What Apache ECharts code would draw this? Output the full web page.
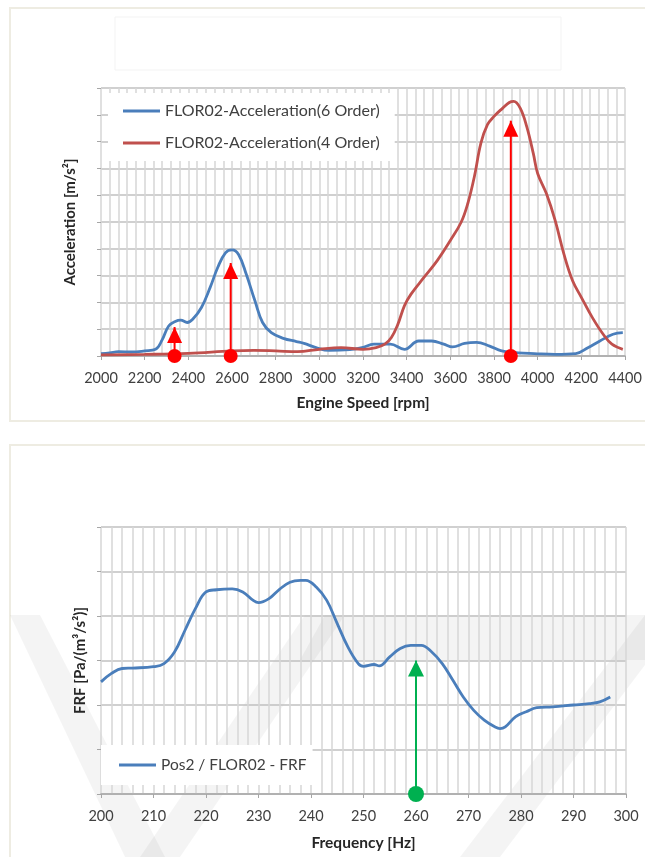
<!DOCTYPE html>
<html>
<head>
<meta charset="utf-8">
<title>Acceleration orders and FRF</title>
<script src="https://cdn.jsdelivr.net/npm/echarts@6/dist/echarts.min.js"></script>
<style>
  html, body { margin: 0; padding: 0; background: #ffffff; }
  #main { width: 645px; height: 857px; }
</style>
</head>
<body>
<div id="main"></div>
<script>
// ---- Engine run-up: order cuts of floor acceleration ----
const order6Rpm = [2000, 2040, 2080, 2140, 2200, 2250, 2280, 2310, 2340, 2365, 2395, 2420, 2460, 2500, 2535, 2570, 2600, 2630, 2665, 2705, 2740, 2780, 2835, 2895, 2930, 2985, 3045, 3140, 3195, 3250, 3325, 3390, 3455, 3515, 3570, 3610, 3665, 3720, 3780, 3835, 3910, 3985, 4080, 4175, 4230, 4285, 4345, 4390];
const order6Acc = [0.09, 0.12, 0.16, 0.15, 0.19, 0.25, 0.6, 1.12, 1.29, 1.34, 1.25, 1.37, 1.81, 2.56, 3.31, 3.85, 3.96, 3.79, 3.06, 2.06, 1.25, 0.87, 0.66, 0.54, 0.47, 0.31, 0.21, 0.24, 0.31, 0.44, 0.44, 0.25, 0.56, 0.56, 0.44, 0.34, 0.47, 0.51, 0.37, 0.19, 0.12, 0.09, 0.06, 0.09, 0.31, 0.56, 0.81, 0.87];

const order4Rpm = [2000, 2200, 2400, 2600, 2700, 2800, 2900, 3000, 3100, 3200, 3260, 3300, 3330, 3360, 3390, 3420, 3480, 3540, 3600, 3650, 3680, 3710, 3740, 3770, 3800, 3840, 3870, 3890, 3920, 3950, 3980, 4000, 4040, 4080, 4120, 4160, 4200, 4250, 4300, 4340, 4390];
const order4Acc = [0.04, 0.06, 0.1, 0.19, 0.21, 0.19, 0.16, 0.25, 0.31, 0.25, 0.31, 0.44, 0.69, 1.19, 1.88, 2.31, 2.94, 3.56, 4.31, 5.0, 5.69, 6.69, 7.94, 8.63, 8.94, 9.25, 9.46, 9.5, 9.25, 8.56, 7.56, 6.81, 6.06, 5.06, 3.81, 2.81, 2.19, 1.44, 0.81, 0.44, 0.25];

// resonance markers on the run-up (rpm, arrow tip level)
const peakRpm = [2337, 2594, 3877];
const peakTip = [1.08, 3.47, 8.78];

// ---- Vibro-acoustic FRF ----
const frfHz = [200, 202, 204, 206, 210, 212, 214, 216, 218, 220, 222, 225, 227, 229, 230, 232, 234, 236, 238, 239, 241, 243, 245, 247, 249, 250, 252, 253, 255, 257, 259, 261, 263, 265, 267, 269, 271, 273, 275, 276, 277, 279, 281, 283, 286, 290, 293, 295, 297];
const frfVal = [2.52, 2.71, 2.82, 2.83, 2.86, 2.93, 3.19, 3.68, 4.17, 4.54, 4.59, 4.61, 4.54, 4.35, 4.30, 4.39, 4.60, 4.76, 4.80, 4.80, 4.65, 4.35, 3.83, 3.31, 2.93, 2.87, 2.91, 2.88, 3.08, 3.27, 3.34, 3.34, 3.19, 2.93, 2.56, 2.18, 1.88, 1.66, 1.51, 1.47, 1.51, 1.74, 1.85, 1.94, 1.96, 2.00, 2.03, 2.07, 2.18];

const frfMarkHz = 260;
const frfMarkTip = 3.0;

const xTicksTop = [2000, 4400, 200];   // min, max, step
const xTicksBottom = [200, 300, 10];

const zip = (xs, ys) => xs.map((x, i) => [x, ys[i]]);

const FONT = 'Lato, "Open Sans", sans-serif';
const TEXT = '#404040';
const GRID_V = '#d6d6d6';
const GRID_H = '#c0c0c0';
const AXIS = '#a6a6a6';

function arrowSeries(x, tip, color, xi, yi, dot, head) {
  return {
    type: 'line',
    xAxisIndex: xi,
    yAxisIndex: yi,
    clip: false,
    z: 5,
    silent: true,
    lineStyle: { color: color, width: 2 },
    itemStyle: { color: color },
    data: [
      { value: [x, 0], symbol: 'circle', symbolSize: dot },
      { value: [x, tip], symbol: 'triangle', symbolSize: head, symbolOffset: [0, '50%'] }
    ]
  };
}

function xAxisCfg(idx, ticks, name, gap) {
  return {
    type: 'value',
    gridIndex: idx,
    min: ticks[0], max: ticks[1], interval: ticks[2],
    name: name,
    nameLocation: 'middle',
    nameGap: gap,
    nameTextStyle: { fontFamily: FONT, fontWeight: 'bold', fontSize: 15.5, color: '#262626' },
    axisLine: { show: true, lineStyle: { color: AXIS, width: 1.5 } },
    axisTick: { show: true, length: 4, lineStyle: { color: AXIS } },
    axisLabel: { color: TEXT, fontSize: 14.5, fontFamily: FONT, margin: 15, formatter: v => String(v) },
    minorTick: { show: false, splitNumber: 5 },
    splitLine: { show: true, lineStyle: { color: GRID_V, width: 1.5 } },
    minorSplitLine: { show: true, lineStyle: { color: GRID_V, width: 1.5 } }
  };
}

function yAxisCfg(idx, max, name, gap) {
  return {
    type: 'value',
    gridIndex: idx,
    min: 0, max: max, interval: 1,
    name: name,
    nameLocation: 'middle',
    nameGap: gap,
    nameTextStyle: { fontFamily: FONT, fontWeight: 'bold', fontSize: 15, color: '#262626' },
    axisLine: { show: false },
    axisTick: { show: true, length: 4, lineStyle: { color: AXIS } },
    axisLabel: { show: false },
    splitLine: { show: true, lineStyle: { color: GRID_H, width: 1.5 } }
  };
}

const chart = echarts.init(document.getElementById('main'), null, { renderer: 'canvas', width: 645, height: 857 });

const shade = 'rgba(0,0,0,0.045)';

chart.setOption({
  animation: false,
  backgroundColor: '#ffffff',
  graphic: [
    // panel frames
    { type: 'rect', z: -20, shape: { x: 10, y: 8, width: 650, height: 413 }, style: { fill: 'none', stroke: '#eeece2', lineWidth: 2 } },
    { type: 'rect', z: -20, shape: { x: 10, y: 445, width: 650, height: 430 }, style: { fill: 'none', stroke: '#eeece2', lineWidth: 2 } },
    // empty title placeholder
    { type: 'rect', z: -20, shape: { x: 115, y: 17, width: 446, height: 53 }, style: { fill: 'none', stroke: '#f3f3f3', lineWidth: 1 } },
    // faint background emblem behind the lower panel
    { type: 'polygon', z: -15, shape: { points: [[10, 615], [40, 615], [165, 857], [125, 857]] }, style: { fill: shade } },
    { type: 'polygon', z: -15, shape: { points: [[140, 857], [180, 857], [345, 615], [305, 615]] }, style: { fill: shade } },
    { type: 'polygon', z: -15, shape: { points: [[325, 615], [645, 615], [645, 660], [300, 660]] }, style: { fill: shade } },
    { type: 'polygon', z: -15, shape: { points: [[460, 857], [500, 857], [645, 665], [645, 615]] }, style: { fill: shade } }
  ],
  grid: [
    { left: 101, top: 88, width: 524, height: 268 },
    { left: 101, top: 527, width: 525, height: 267 }
  ],
  xAxis: [
    xAxisCfg(0, xTicksTop, 'Engine Speed [rpm]', 39),
    xAxisCfg(1, xTicksBottom, 'Frequency [Hz]', 41)
  ],
  yAxis: [
    yAxisCfg(0, 10, 'Acceleration [m/s²]', 23),
    yAxisCfg(1, 6, 'FRF [Pa/(m³/s²)]', 13)
  ],
  legend: [
    {
      data: ['FLOR02-Acceleration(6 Order)', 'FLOR02-Acceleration(4 Order)'],
      orient: 'vertical',
      left: 108, top: 93,
      backgroundColor: '#ffffff',
      padding: [10, 15, 10, 15],
      icon: 'rect',
      itemWidth: 37, itemHeight: 3, itemGap: 16,
      textStyle: { fontFamily: FONT, fontSize: 16, color: TEXT, lineHeight: 16 }
    },
    {
      data: ['Pos2 / FLOR02 - FRF'],
      orient: 'vertical',
      left: 101, top: 745,
      backgroundColor: '#ffffff',
      padding: [12, 6, 12, 18],
      icon: 'rect',
      itemWidth: 37, itemHeight: 3,
      textStyle: { fontFamily: FONT, fontSize: 15.5, color: TEXT, lineHeight: 16 }
    }
  ],
  series: [
    {
      name: 'FLOR02-Acceleration(6 Order)',
      type: 'line', xAxisIndex: 0, yAxisIndex: 0,
      symbol: 'none', smooth: 0.4, z: 3,
      lineStyle: { color: '#4a7ebb', width: 2.8 },
      itemStyle: { color: '#4a7ebb' },
      data: zip(order6Rpm, order6Acc)
    },
    {
      name: 'FLOR02-Acceleration(4 Order)',
      type: 'line', xAxisIndex: 0, yAxisIndex: 0,
      symbol: 'none', smooth: 0.4, z: 3,
      lineStyle: { color: '#c0504d', width: 2.8 },
      itemStyle: { color: '#c0504d' },
      data: zip(order4Rpm, order4Acc)
    },
    {
      name: 'Pos2 / FLOR02 - FRF',
      type: 'line', xAxisIndex: 1, yAxisIndex: 1,
      symbol: 'none', smooth: 0.4, z: 3,
      lineStyle: { color: '#4a7ebb', width: 2.8 },
      itemStyle: { color: '#4a7ebb' },
      data: zip(frfHz, frfVal)
    },
    ...peakRpm.map((r, i) => arrowSeries(r, peakTip[i], '#ff0000', 0, 0, 14, [15, 16])),
    arrowSeries(frfMarkHz, frfMarkTip, '#00b050', 1, 1, 16, [16, 16])
  ]
});
</script>
</body>
</html>
